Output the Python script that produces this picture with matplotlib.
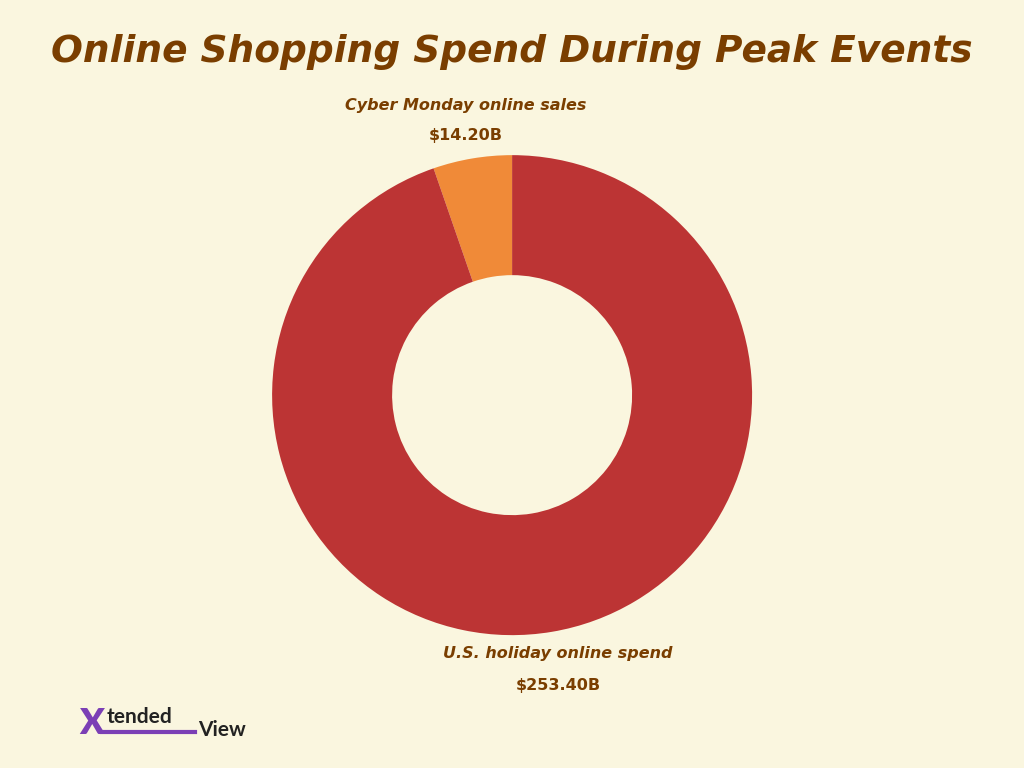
import matplotlib
matplotlib.use("Agg")
import matplotlib.pyplot as plt

# data
labels = ["Cyber Monday online sales", "U.S. holiday online spend"]
values = [14.20, 253.40]
colors = ["#F08A38", "#BC3434"]

bg = "#FAF6DF"
brown = "#7A3E00"

fig = plt.figure(figsize=(10.24, 7.68), dpi=100, facecolor=bg)
ax = fig.add_axes([0.2656, 0.173, 0.469, 0.625])
ax.set_facecolor(bg)
ax.pie(values, colors=colors, startangle=90, counterclock=True, radius=1,
       wedgeprops=dict(width=0.5, edgecolor="none"))
ax.set_xlim(-1, 1)
ax.set_ylim(-1, 1)
ax.set_aspect("equal")

fig.text(0.5, 0.932, "Online Shopping Spend During Peak Events", ha="center", va="center",
         fontsize=27, fontweight="bold", fontstyle="italic", color=brown, family="DejaVu Sans")

# slice labels
kw = dict(ha="center", va="center", fontsize=11.5, fontweight="bold", color=brown,
          family="DejaVu Sans")
fig.text(0.455, 0.862, labels[0], fontstyle="italic", **kw)
fig.text(0.455, 0.823, "$%.2fB" % values[0], **kw)
fig.text(0.545, 0.149, labels[1], fontstyle="italic", **kw)
fig.text(0.545, 0.108, "$%.2fB" % values[1], **kw)

# logo
fig.text(0.077, 0.058, "X", fontsize=26, fontweight="heavy", color="#7B3FB5", family="Lato",
         va="center")
fig.text(0.104, 0.066, "tended", fontsize=15, fontweight="bold", color="#222222", family="Lato",
         va="center")
fig.text(0.193, 0.05, "View", fontsize=15, fontweight="bold", color="#222222", family="Lato",
         va="center")
fig.add_artist(plt.Line2D([0.1, 0.19], [0.047, 0.047], color="#7B3FB5", lw=3))

fig.savefig("out.png", dpi=100, facecolor=bg)
